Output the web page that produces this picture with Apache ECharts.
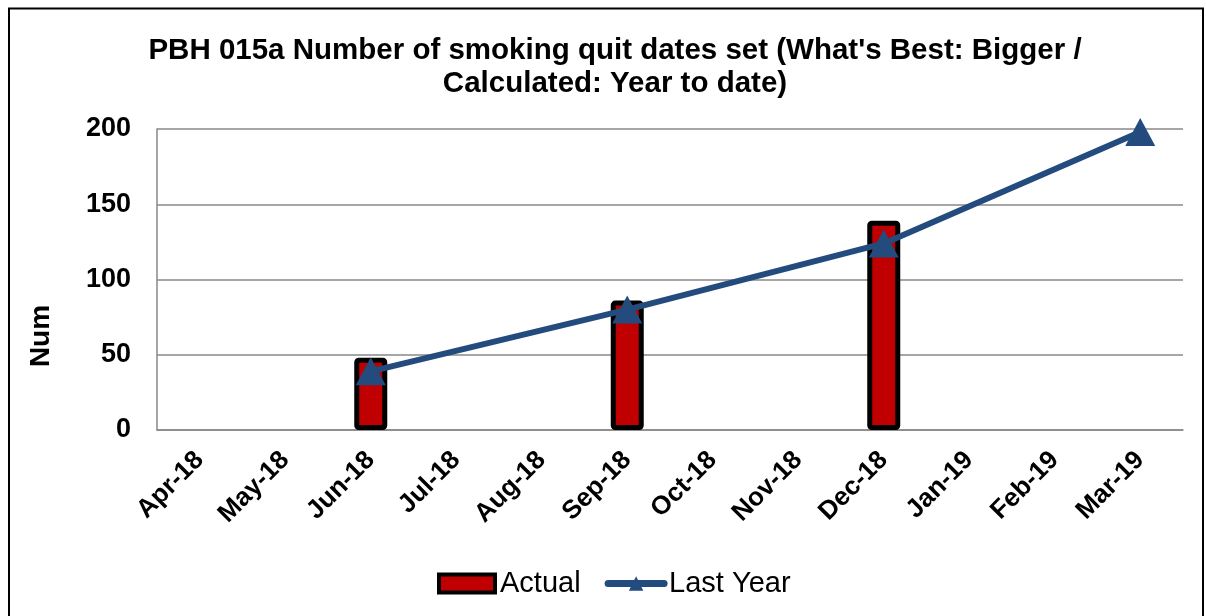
<!DOCTYPE html>
<html>
<head>
<meta charset="utf-8">
<script src="https://cdn.jsdelivr.net/npm/echarts@6/dist/echarts.min.js"></script>
<style>
  html, body { margin: 0; padding: 0; background: #fff; }
  #chart { width: 1206px; height: 616px; }
</style>
</head>
<body>
<div id="chart"></div>
<script>
// Months of the financial year
var months = ['Apr-18', 'May-18', 'Jun-18', 'Jul-18', 'Aug-18', 'Sep-18',
              'Oct-18', 'Nov-18', 'Dec-18', 'Jan-19', 'Feb-19', 'Mar-19'];
// Year-to-date quit dates set, reported quarterly
var actual = [null, null, 48, null, null, 86, null, null, 139, null, null, null];
// Same measure for the previous year
var lastYear = [null, null, 39, null, null, 80, null, null, 124, null, null, 198];
var yTicks = { min: 0, max: 200, interval: 50 };

var font = 'Liberation Sans, Arial, sans-serif';
var navy = '#234B7E';
var chart = echarts.init(document.getElementById('chart'), null, { renderer: 'canvas' });

chart.setOption({
  backgroundColor: '#ffffff',
  animation: false,
  title: {
    text: "PBH 015a Number of smoking quit dates set (What's Best: Bigger /\nCalculated: Year to date)",
    left: 610,
    textAlign: 'center',
    top: 29,
    textStyle: { fontFamily: font, fontWeight: 'bold', fontSize: 29.5, color: '#000', lineHeight: 33 }
  },
  graphic: [
    {
      type: 'polyline',
      shape: { points: [[9, 616], [9, 8.5], [1203, 8.5], [1203, 616]] },
      style: { stroke: '#000', lineWidth: 2, fill: null },
      silent: true
    },
    {
      // y-axis title, centred on the chart body
      type: 'text',
      x: 41, y: 336,
      rotation: Math.PI / 2,
      style: {
        text: 'Num', fill: '#000',
        font: 'bold 28px ' + font,
        align: 'center', verticalAlign: 'middle'
      },
      silent: true
    }
  ],
  legend: {
    bottom: 13,
    left: 432,
    itemGap: 24,
    itemWidth: 56,
    itemHeight: 18,
    textStyle: { fontFamily: font, fontSize: 29, color: '#000' },
    data: [
      { name: 'Actual', icon: 'rect', itemStyle: { color: '#C00000', borderColor: '#000', borderWidth: 4 } },
      { name: 'Last Year', lineStyle: { color: navy, width: 7 }, itemStyle: { color: navy } }
    ]
  },
  grid: { left: 157, right: 23, top: 129, bottom: 186 },
  xAxis: {
    type: 'category',
    data: months,
    boundaryGap: true,
    axisLine: { show: true, lineStyle: { color: '#898989', width: 1.5 } },
    axisTick: { show: false },
    axisLabel: {
      interval: 0,
      rotate: 45,
      margin: 26,
      fontFamily: font, fontWeight: 'bold', fontSize: 26, color: '#000'
    }
  },
  yAxis: {
    type: 'value',
    min: yTicks.min, max: yTicks.max, interval: yTicks.interval,
    axisLine: { show: true, lineStyle: { color: '#898989', width: 1.5 } },
    axisTick: { show: false },
    axisLabel: { margin: 26, fontFamily: font, fontWeight: 'bold', fontSize: 27, color: '#000' },
    splitLine: { lineStyle: { color: '#898989', width: 1.5 } }
  },
  series: [
    {
      name: 'Actual',
      type: 'bar',
      data: actual,
      barWidth: 33,
      itemStyle: { color: '#C00000', borderColor: '#000', borderWidth: 5, borderRadius: 2 }
    },
    {
      name: 'Last Year',
      type: 'line',
      data: lastYear,
      connectNulls: true,
      symbol: 'triangle',
      symbolSize: [30, 28],
      lineStyle: { color: navy, width: 6, cap: 'round' },
      itemStyle: { color: navy },
      z: 5
    }
  ]
});
</script>
</body>
</html>
